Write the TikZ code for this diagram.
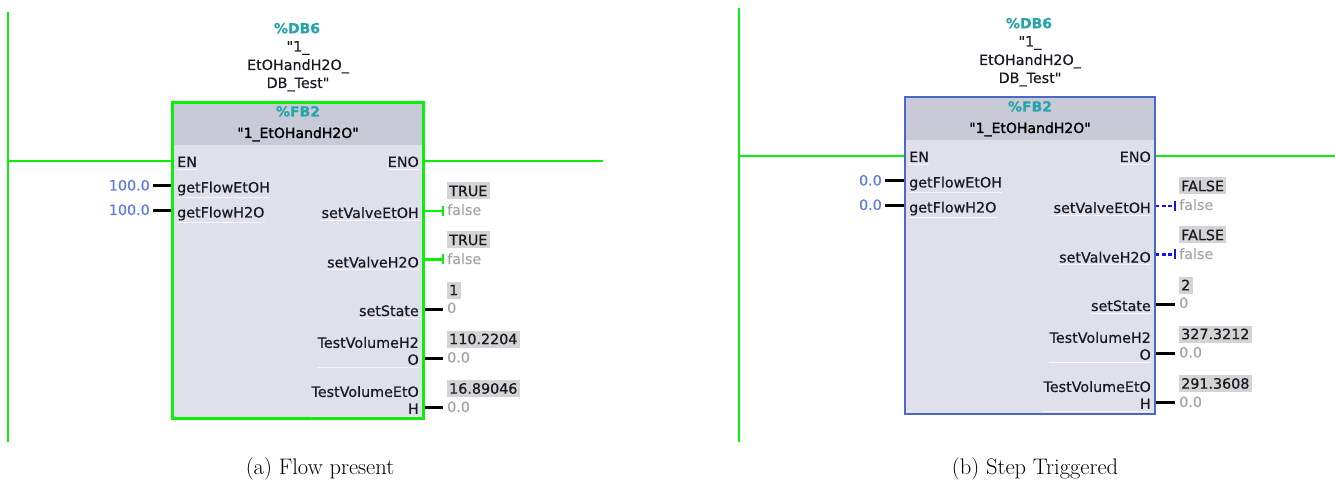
\documentclass[tikz,border=0pt]{standalone}
\usepackage{fontspec}
\newfontfamily\plcfont[FakeBold=0.5]{DejaVu Sans}
\newfontfamily\plcfontb[FakeBold=1.6]{DejaVu Sans}
\definecolor{railgreen}{RGB}{10,240,10}
\definecolor{bodyfill}{RGB}{223,224,233}
\definecolor{headfill}{RGB}{201,202,215}
\definecolor{tiateal}{RGB}{40,165,170}
\definecolor{invalblue}{RGB}{95,125,225}
\definecolor{defgray}{RGB}{165,165,165}
\definecolor{valgray}{RGB}{212,212,212}
\definecolor{txtdark}{RGB}{25,25,35}
\definecolor{bordblue}{RGB}{75,105,195}
\definecolor{wireblue}{RGB}{20,20,230}
\tikzset{
  plc/.style={font=\plcfont\fontsize{14.3}{18}\selectfont, text=txtdark, inner sep=0pt},
  titlet/.style={plc, font=\plcfont\bfseries\fontsize{14}{18}\selectfont, text=tiateal},
  pinlbl/.style={plc, inner ysep=2pt},
  sepline/.style={draw=white!70!bodyfill, line width=1pt},
  inval/.style={plc, text=invalblue},
  defval/.style={plc, text=defgray},
  valbox/.style={plc, fill=valgray, inner xsep=2.5pt, minimum height=17pt},
  rail/.style={draw=railgreen, line width=2.2pt},
  wire/.style={draw=black, line width=2.5pt},
  fbbody/.style={fill=bodyfill, minimum width=250pt, minimum height=316pt, inner sep=0pt},
  caption/.style={font=\fontsize{22.5}{27}\selectfont, inner sep=0pt}
}
\newcommand\plcpanel[5]{%
  \node[fbbody] (box) at (298,260.5) {};
  \fill[headfill] (box.north west) rectangle ([yshift=-43pt]box.north east);
  % titles above and in header
  \node[titlet, anchor=base] (db) at (297,33.3) {\%DB6};
  \node[plc, anchor=base] (dbn1) at (298,51.5) {"1\_};
  \node[plc, anchor=base] (dbn2) at (298,70) {EtOHandH2O\_};
  \node[plc, anchor=base] (dbn3) at (298,88) {DB\_Test"};
  \node[titlet, anchor=base] (fb) at (298,116.5) {\%FB2};
  \node[plc, anchor=base, text=black, font=\plcfontb\fontsize{14}{18}\selectfont] (fbn) at (298,138) {"1\_EtOHandH2O"};
  % pin labels
  \node[pinlbl, anchor=base west] (en) at (177,167) {EN};
  \node[pinlbl, anchor=base east] (eno) at (419,167) {ENO};
  \node[pinlbl, anchor=base west] (gfe) at (177,192.5) {getFlowEtOH};
  \node[pinlbl, anchor=base west] (gfh) at (177,217.5) {getFlowH2O};
  \node[pinlbl, anchor=base east] (sve) at (419,218) {setValveEtOH};
  \node[pinlbl, anchor=base east] (svh) at (419,267.5) {setValveH2O};
  \node[pinlbl, anchor=base east] (sst) at (419,316) {setState};
  \node[pinlbl, anchor=east, align=right] (tvh) at (419,351) {TestVolumeH2\\[-1pt]O};
  \node[pinlbl, anchor=east, align=right] (tve) at (419,400) {TestVolumeEtO\\[-1pt]H};
  \foreach \l in {en,eno,gfe,gfh,sve,svh,sst,tvh,tve}
    \draw[sepline] (\l.south west) -- (\l.south east);
  % EN / ENO
  \coordinate (enin) at (7.5,161);
  \coordinate (enout) at (603,161);
  \draw[rail] (enin) -- (enin -| box.west);
  \draw[rail] (box.east |- enout) -- (enout);
  % inputs
  \node[inval, anchor=base east] (iv1) at (150,190.5) {#1};
  \node[inval, anchor=base east] (iv2) at (150,215) {#1};
  \coordinate (iw1) at (153,185.5);
  \coordinate (iw2) at (153,210.5);
  \draw[wire] (iw1) -- (iw1 -| box.west);
  \draw[wire] (iw2) -- (iw2 -| box.west);
  % boolean outputs
  \coordinate (ow1) at (443,211);
  \coordinate (ow2) at (443,259.5);
  \draw[outwire] (box.east |- ow1) -- (ow1);
  \draw[outtick] (ow1) ++(0,-5) -- ++(0,10);
  \draw[outwire] (box.east |- ow2) -- (ow2);
  \draw[outtick] (ow2) ++(0,-5) -- ++(0,10);
  \node[valbox, anchor=west] (bv1) at (446.5,191) {#2\hspace{3pt}};
  \node[defval, anchor=base west] (dv1) at (447,215) {false};
  \node[valbox, anchor=west] (bv2) at (446.5,240) {#2\hspace{3pt}};
  \node[defval, anchor=base west] (dv2) at (447,264) {false};
  % numeric outputs
  \coordinate (ow3) at (443,309.5);
  \coordinate (ow4) at (443,358.5);
  \coordinate (ow5) at (443,407.5);
  \draw[wire] (box.east |- ow3) -- (ow3);
  \draw[wire] (box.east |- ow4) -- (ow4);
  \draw[wire] (box.east |- ow5) -- (ow5);
  \node[valbox, anchor=west] (sv) at (446.5,290) {#3\hspace{3pt}};
  \node[defval, anchor=base west] (dv3) at (447,313) {0};
  \node[valbox, anchor=west] (vh) at (446.5,339) {#4};
  \node[defval, anchor=base west] (dv4) at (447,362.5) {0.0};
  \node[valbox, anchor=west] (ve) at (446.5,388.5) {#5};
  \node[defval, anchor=base west] (dv5) at (447,412) {0.0};
  % border
  \draw[panelborder] (box.north west) rectangle (box.south east);
}
\begin{document}
\begin{tikzpicture}[x=1pt,y=-1pt]
\useasboundingbox (0,0) rectangle (1335,486);
% power rails
\coordinate (ra1) at (8,12);
\coordinate (ra2) at (8,442);
\coordinate (rb1) at (739,8);
\coordinate (rb2) at (739,442);
\draw[rail] (ra1) -- (ra2);
\draw[rail] (rb1) -- (rb2);
\begin{scope}[name prefix=a-,
  panelborder/.style={draw=railgreen, line width=3pt},
  outwire/.style={draw=railgreen, line width=2.5pt},
  outtick/.style={draw=railgreen, line width=2.5pt}]
  \plcpanel{100.0}{TRUE}{1}{110.2204}{16.89046}
\end{scope}
\begin{scope}[shift={(732,-5)}, name prefix=b-,
  panelborder/.style={draw=bordblue, line width=2pt},
  outwire/.style={draw=wireblue, line width=2.8pt, dash pattern=on 4pt off 2.5pt},
  outtick/.style={draw=wireblue, line width=2.8pt}]
  \plcpanel{0.0}{FALSE}{2}{327.3212}{291.3608}
\end{scope}
\node[caption] (capa) at (320,469) {(a) Flow present};
\node[caption] (capb) at (1035,469) {(b) Step Triggered};
\end{tikzpicture}
\end{document}
